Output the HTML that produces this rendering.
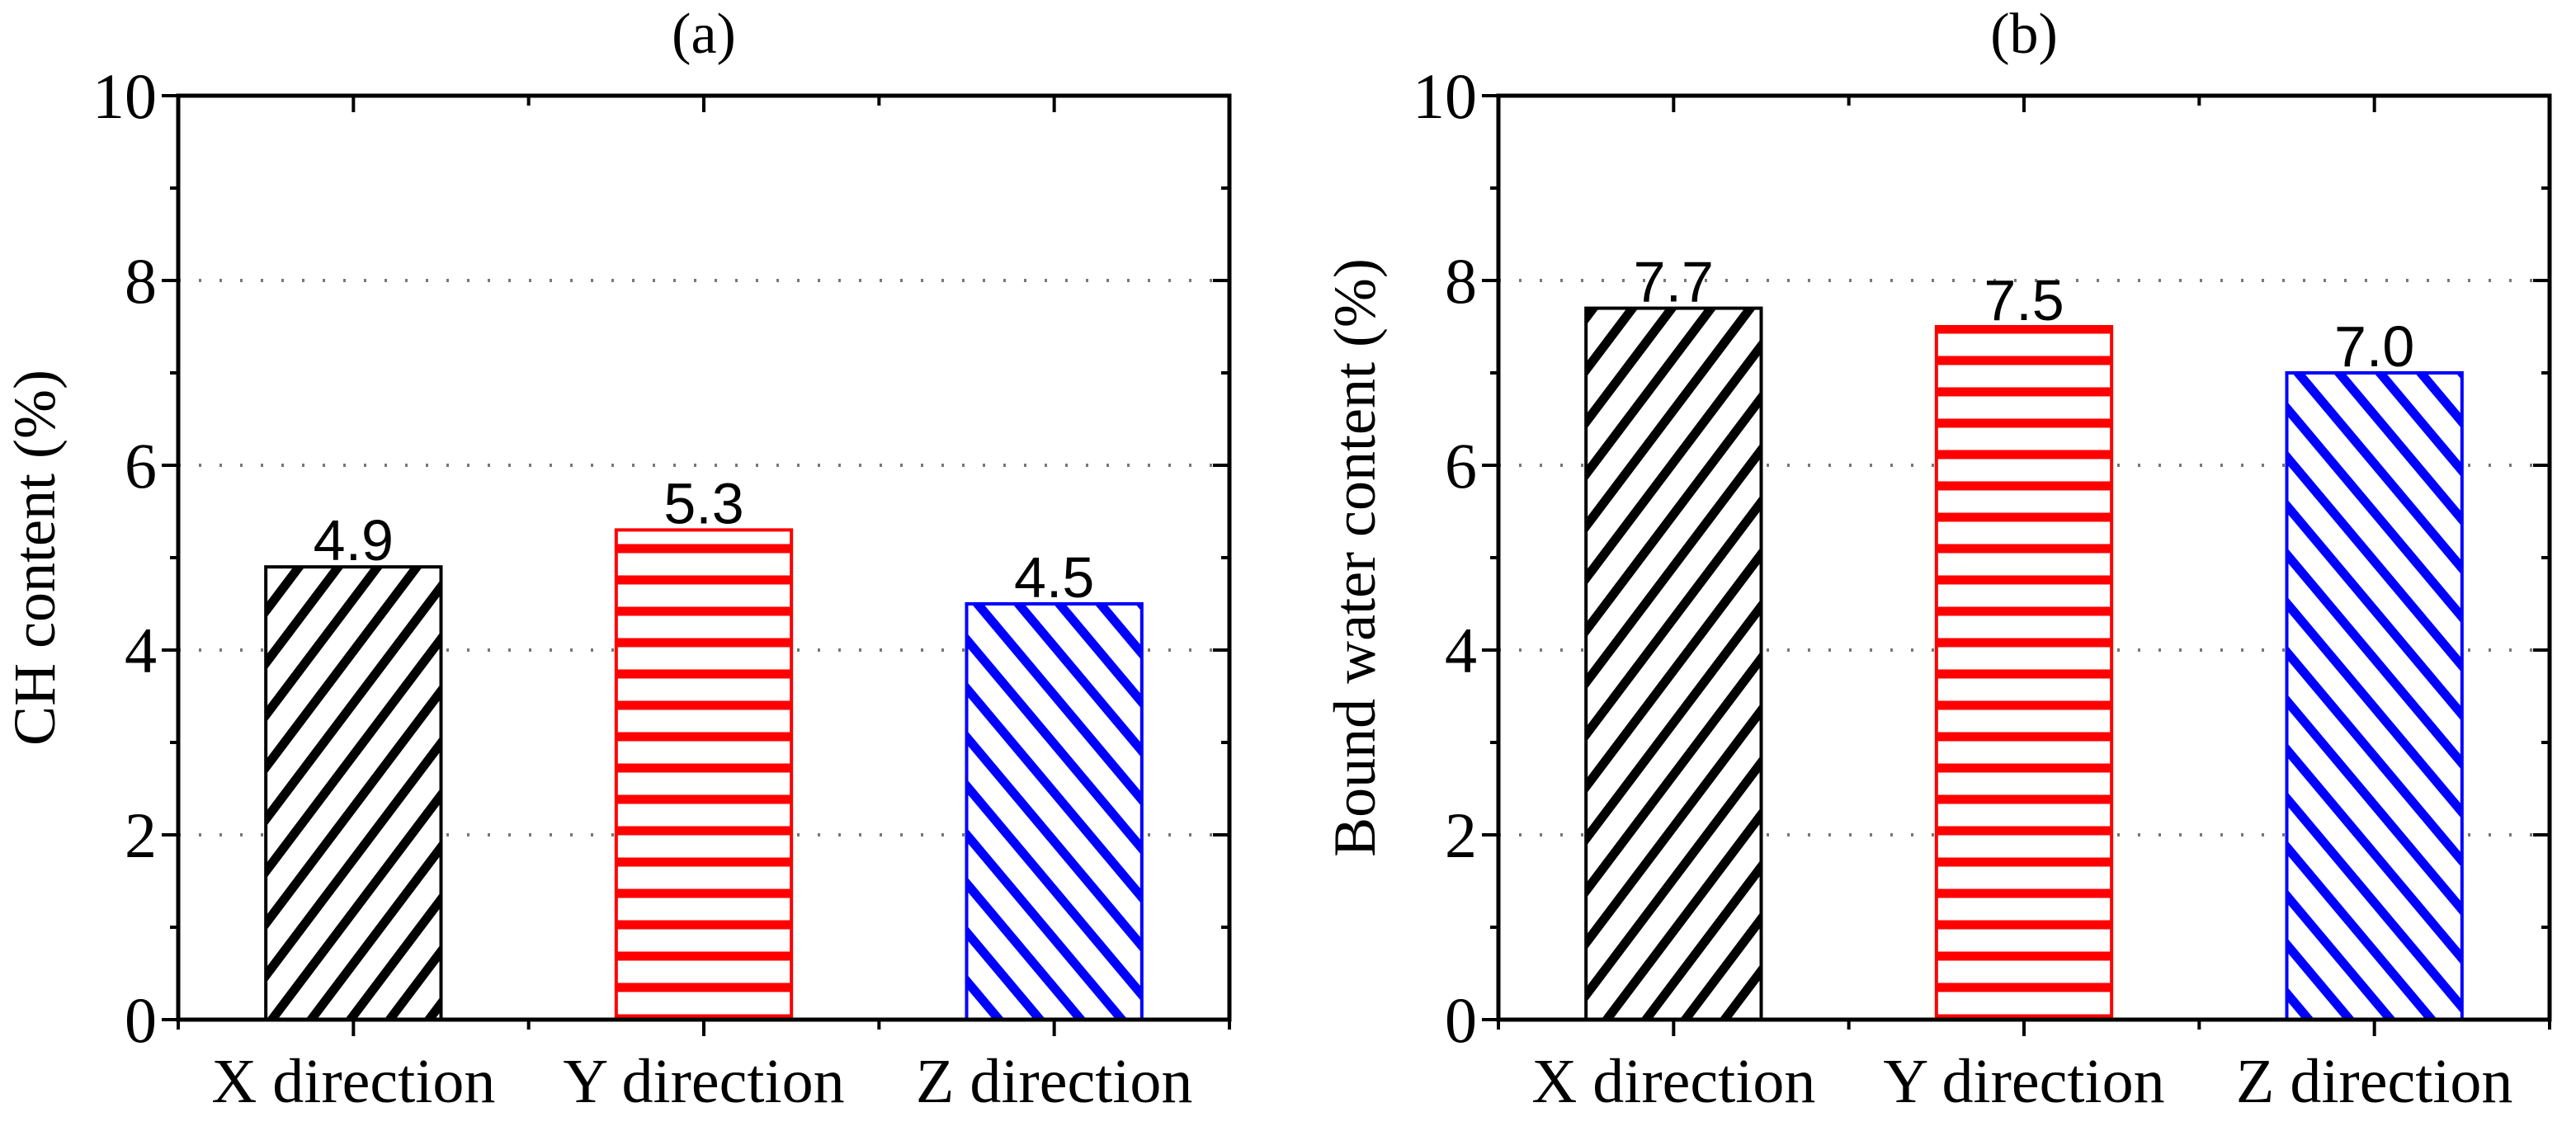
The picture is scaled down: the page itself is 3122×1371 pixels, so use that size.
<!DOCTYPE html>
<html><head><meta charset="utf-8"><style>
html,body{margin:0;padding:0;background:#fff;}
svg{display:block;}
</style></head><body>
<svg id="chart" width="3122" height="1371" viewBox="0 0 3122 1371" xmlns="http://www.w3.org/2000/svg">
<defs>
<pattern id="hatchX" patternUnits="userSpaceOnUse" width="38" height="38" patternTransform="rotate(37)">
<rect x="0" y="0" width="38" height="38" fill="#fff"/><line x1="19" y1="0" x2="19" y2="38" stroke="#000" stroke-width="11"/></pattern>
<pattern id="hatchY" patternUnits="userSpaceOnUse" width="40" height="38">
<rect x="0" y="0" width="40" height="38" fill="#fff"/><line x1="0" y1="19" x2="40" y2="19" stroke="#ff0000" stroke-width="11"/></pattern>
<pattern id="hatchZ" patternUnits="userSpaceOnUse" width="38" height="38" patternTransform="rotate(-40)">
<rect x="0" y="0" width="38" height="38" fill="#fff"/><line x1="19" y1="0" x2="19" y2="38" stroke="#0000ff" stroke-width="11"/></pattern>
</defs>
</svg>
<script>
const categories = ["X direction", "Y direction", "Z direction"];
const chValues = [4.9, 5.3, 4.5];
const boundWaterValues = [7.7, 7.5, 7.0];
const valueLabelsA = ["4.9", "5.3", "4.5"];
const valueLabelsB = ["7.7", "7.5", "7.0"];
const yTicks = [0, 2, 4, 6, 8, 10];
const yMinorTicks = [1, 3, 5, 7, 9];
const gridValues = [2, 4, 6, 8];

const svg = document.getElementById('chart');
const NS = 'http://www.w3.org/2000/svg';
const fills = ['url(#hatchX)', 'url(#hatchY)', 'url(#hatchZ)'];
const strokes = ['#000', '#ff0000', '#0000ff'];
function mk(tag, attrs, parent) {
  const e = document.createElementNS(NS, tag);
  for (const k in attrs) e.setAttribute(k, attrs[k]);
  (parent || svg).appendChild(e);
  return e;
}
function panel(x0, x1, yTop, yBot, values, labels, title, ytitle, key) {
  const g = mk('g', {});
  
  
  const yS = v => yBot - (v / 10) * (yBot - yTop);
  const xS = c => x0 + (x1 - x0) * (c - 0.5) / 3;
  gridValues.forEach(v => {
    const l = mk('line', {x1: x0, x2: x1, y1: yS(v), y2: yS(v), stroke: '#777', 'stroke-width': 4, 'stroke-dasharray': '3 22'}, g);
    
    
  });
  values.forEach((v, i) => {
    const c = i + 1;
    const w = (x1 - x0) / 3 * 0.5;
    const r = mk('rect', {x: xS(c) - w / 2, y: yS(v), width: w, height: yS(0) - yS(v), fill: fills[i], stroke: strokes[i], 'stroke-width': 4}, g);
    
    
    const t = mk('text', {x: xS(c), y: yS(v) - 8, 'text-anchor': 'middle', 'font-family': 'Liberation Sans, sans-serif', 'font-size': 70, fill: '#000'}, g);
    t.textContent = labels[i];
    
    
  });
  const f = mk('rect', {x: x0, y: yTop, width: x1 - x0, height: yBot - yTop, fill: 'none', stroke: '#000', 'stroke-width': 5}, g);
  
  
  yTicks.forEach(v => {
    mk('line', {x1: x0 - 20, x2: x0, y1: yS(v), y2: yS(v), stroke: '#000', 'stroke-width': 4}, g);
    mk('line', {x1: x1 - 20, x2: x1, y1: yS(v), y2: yS(v), stroke: '#000', 'stroke-width': 4}, g);
    const t = mk('text', {x: x0 - 26, y: yS(v) + 27, 'text-anchor': 'end', 'font-family': 'Liberation Serif, serif', 'font-size': 78, fill: '#000'}, g);
    t.textContent = v;
    
    
  });
  yMinorTicks.forEach(v => {
    mk('line', {x1: x0 - 10, x2: x0, y1: yS(v), y2: yS(v), stroke: '#000', 'stroke-width': 4}, g);
    mk('line', {x1: x1 - 10, x2: x1, y1: yS(v), y2: yS(v), stroke: '#000', 'stroke-width': 4}, g);
  });
  [0.5, 1, 1.5, 2, 2.5, 3, 3.5].forEach(c => {
    const len = Number.isInteger(c) ? 20 : 12;
    mk('line', {x1: xS(c), x2: xS(c), y1: yBot, y2: yBot + len, stroke: '#000', 'stroke-width': 4}, g);
    mk('line', {x1: xS(c), x2: xS(c), y1: yTop, y2: yTop + len, stroke: '#000', 'stroke-width': 4}, g);
  });
  categories.forEach((name, i) => {
    const t = mk('text', {x: xS(i + 1), y: yBot + 100, 'text-anchor': 'middle', 'font-family': 'Liberation Serif, serif', 'font-size': 76, fill: '#000'}, g);
    t.textContent = name;
    
    
  });
  const tt = mk('text', {x: (x0 + x1) / 2, y: 64, 'text-anchor': 'middle', 'font-family': 'Liberation Serif, serif', 'font-size': 70, fill: '#000'}, g);
  tt.textContent = title;
  
  
  const cy = (yTop + yBot) / 2;
  const tx = x0 - 150;
  const yt = mk('text', {x: tx, y: cy, 'text-anchor': 'middle', 'font-family': 'Liberation Serif, serif', 'font-size': 72, fill: '#000', transform: 'rotate(-90 ' + tx + ' ' + cy + ')'}, g);
  yt.textContent = ytitle;
  
  
}
panel(216, 1490, 116, 1236, chValues, valueLabelsA, '(a)', 'CH content (%)', 'a');
panel(1816, 3090, 116, 1236, boundWaterValues, valueLabelsB, '(b)', 'Bound water content (%)', 'b');
</script>
</body></html>
